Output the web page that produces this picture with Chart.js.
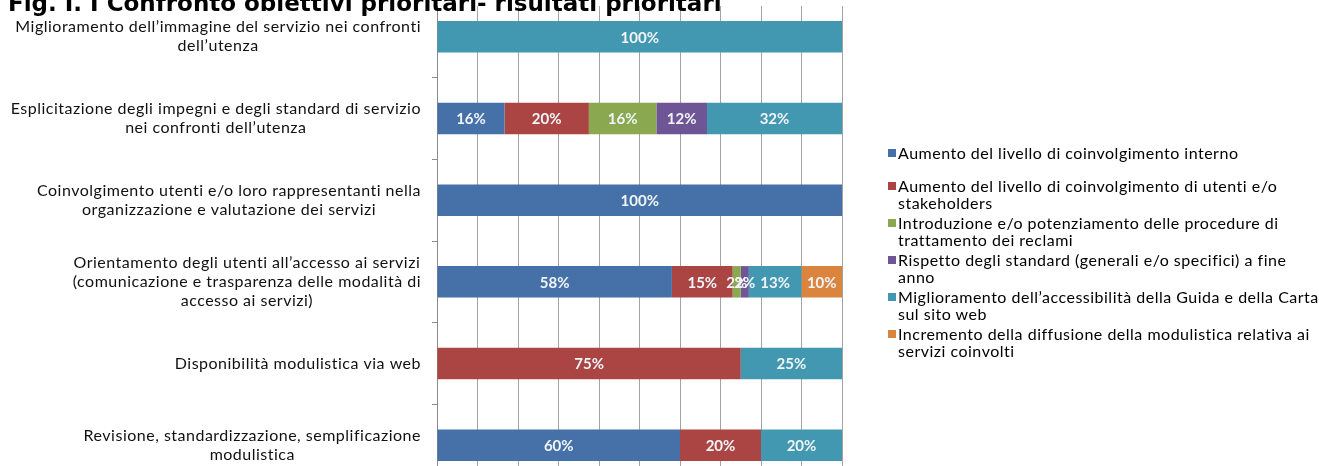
<!DOCTYPE html>
<html lang="it">
<head>
<meta charset="utf-8">
<title>Confronto obiettivi prioritari - risultati prioritari</title>
<script src="https://cdn.jsdelivr.net/npm/chart.js@4.4.1/dist/chart.umd.min.js"></script>
<style>
  html, body { margin: 0; padding: 0; background: #fff; }
  body { position: relative; width: 1319px; height: 466px; overflow: hidden; font-family: Lato, "Noto Sans", sans-serif; }
  #chartBox { position: absolute; left: 0; top: -20px; width: 1319px; height: 545px; }
  #topMask { position: absolute; left: 425px; top: 0; width: 430px; height: 6px; background: #fff; z-index: 2; }
  #title { position: absolute; left: 8px; top: -8px; margin: 0; z-index: 3; white-space: nowrap;
           font: bold 23px/23px "DejaVu Sans", Verdana, sans-serif; color: #000; }
  #legend { position: absolute; left: 888px; top: 144px; z-index: 2; font-size: 16px; line-height: 17px;
            letter-spacing: 0.5px; color: #000; }
  #legend .item { display: flex; align-items: flex-start; margin-bottom: 3px; }
  #legend .item.single { margin-bottom: 16px; }
  #legend .swatch { width: 8px; height: 8px; margin-top: 5px; margin-right: 2px; flex: none; }
</style>
</head>
<body>
<h1 id="title">Fig. I. I Confronto obiettivi prioritari- risultati prioritari</h1>
<div id="topMask"></div>
<div id="chartBox"><canvas id="chart" width="1319" height="545"></canvas></div>
<div id="legend"></div>

<script>
// Obiettivi prioritari (one bar each, top to bottom), split in lines as printed
const categories = [
  ["Miglioramento dell\u2019immagine del servizio nei confronti", "dell\u2019utenza"],
  ["Esplicitazione degli impegni e degli standard di servizio", "nei confronti dell\u2019utenza"],
  ["Coinvolgimento utenti e/o loro rappresentanti nella", "organizzazione e valutazione dei servizi"],
  ["Orientamento degli utenti all\u2019accesso ai servizi", "(comunicazione e trasparenza delle modalit\u00e0 di", "accesso ai servizi)"],
  ["Disponibilit\u00e0 modulistica via web"],
  ["Revisione, standardizzazione, semplificazione", "modulistica"]
];

// Risultati prioritari: percentage per objective (null = not present)
const coinvolgimentoInterno  = [null, 16, 100, 58, null, 60];
const coinvolgimentoUtenti   = [null, 20, null, 15, 75,   20];
const proceduraReclami       = [null, 16, null, 2,  null, null];
const rispettoStandard       = [null, 12, null, 2,  null, null];
const accessibilitaGuida     = [100,  32, null, 13, 25,   20];
const diffusioneModulistica  = [null, null, null, 10, null, null];

const seriesNames = [
  ["Aumento del livello di coinvolgimento interno"],
  ["Aumento del livello di coinvolgimento di utenti e/o", "stakeholders"],
  ["Introduzione e/o potenziamento delle procedure di", "trattamento dei reclami"],
  ["Rispetto degli standard (generali e/o specifici) a fine", "anno"],
  ["Miglioramento dell\u2019accessibilit\u00e0 della Guida e della Carta", "sul sito web"],
  ["Incremento della diffusione della modulistica relativa ai", "servizi coinvolti"]
];
const seriesValues = [coinvolgimentoInterno, coinvolgimentoUtenti, proceduraReclami,
                      rispettoStandard, accessibilitaGuida, diffusioneModulistica];
const seriesColors = ["#4571a8", "#aa4543", "#8aa84f", "#6f5595", "#4298b0", "#db843d"];

const xTicks = [0, 10, 20, 30, 40, 50, 60, 70, 80, 90, 100];

// 100% stacked: each bar is split by its share of the row total
const rowTotals = categories.map((_, i) =>
  seriesValues.reduce((s, arr) => s + (arr[i] == null ? 0 : arr[i]), 0));

const datasets = seriesValues.map((vals, k) => ({
  label: seriesNames[k].join(" "),
  values: vals,
  data: vals.map((v, i) => v == null ? null : v / rowTotals[i] * 100),
  backgroundColor: seriesColors[k],
  borderWidth: 0,
  barPercentage: 0.385,
  categoryPercentage: 1.0
}));

const LABEL_FONT = '16px Lato, "Noto Sans", sans-serif';

// value labels centred inside each segment
const segmentLabels = {
  id: "segmentLabels",
  afterDatasetsDraw(chart) {
    const ctx = chart.ctx;
    ctx.save();
    ctx.font = 'bold 15px Lato, "Noto Sans", sans-serif';
    ctx.fillStyle = "#f1f5f8";
    ctx.textAlign = "center";
    ctx.textBaseline = "middle";
    chart.data.datasets.forEach((ds, di) => {
      chart.getDatasetMeta(di).data.forEach((bar, i) => {
        const v = ds.values[i];
        if (v == null) return;
        ctx.fillText(v + "%", (bar.x + bar.base) / 2, bar.y + 1);
      });
    });
    ctx.restore();
  }
};

// category names: block right-aligned against the axis, lines centred in the block
const categoryLabels = {
  id: "categoryLabels",
  afterDraw(chart) {
    const ctx = chart.ctx;
    const y = chart.scales.y;
    const lineH = 19;
    const right = y.right - 16;
    ctx.save();
    ctx.font = LABEL_FONT;
    if ("letterSpacing" in ctx) ctx.letterSpacing = "0.5px";
    ctx.fillStyle = "#111";
    ctx.textAlign = "left";
    ctx.textBaseline = "middle";
    categories.forEach((lines, i) => {
      const widths = lines.map(l => ctx.measureText(l).width);
      const w = Math.max(...widths);
      const cx = right - w / 2;
      const cy = y.getPixelForValue(i);
      const y0 = cy - (lines.length - 1) * lineH / 2;
      lines.forEach((l, j) => ctx.fillText(l, cx - widths[j] / 2, y0 + j * lineH));
    });
    ctx.restore();
  }
};

const chart = new Chart(document.getElementById("chart"), {
  type: "bar",
  data: { labels: categories.map(l => l.join(" ")), datasets },
  options: {
    indexAxis: "y",
    responsive: false,
    animation: false,
    layout: { padding: { left: 0, right: 477, top: 16, bottom: 9 } },
    plugins: { legend: { display: false }, tooltip: { enabled: false }, title: { display: false } },
    scales: {
      x: {
        stacked: true, min: 0, max: 100,
        afterBuildTicks(s) { s.ticks = xTicks.map(v => ({ value: v })); },
        ticks: { callback: v => v + "%", color: "#000", font: { family: "Lato", size: 14 } },
        grid: { color: "#a3a3a3", lineWidth: 1, drawTicks: false },
        border: { color: "#8c8c8c" },
        afterFit(s) { s.height = 30; }
      },
      y: {
        stacked: true,
        ticks: { display: false },
        grid: { drawOnChartArea: false, drawTicks: true, tickLength: 5, color: "#8c8c8c", offset: true },
        border: { display: true, color: "#8c8c8c" },
        afterFit(s) { s.width = 437; }
      }
    }
  },
  plugins: [segmentLabels, categoryLabels]
});

// legend built from the chart's datasets
const legendEl = document.getElementById("legend");
chart.data.datasets.forEach((ds, k) => {
  const item = document.createElement("div");
  item.className = "item" + (seriesNames[k].length === 1 ? " single" : "");
  const sw = document.createElement("span");
  sw.className = "swatch";
  sw.style.background = ds.backgroundColor;
  const txt = document.createElement("span");
  txt.innerHTML = seriesNames[k].join("<br>");
  item.appendChild(sw);
  item.appendChild(txt);
  legendEl.appendChild(item);
});
</script>
</body>
</html>
